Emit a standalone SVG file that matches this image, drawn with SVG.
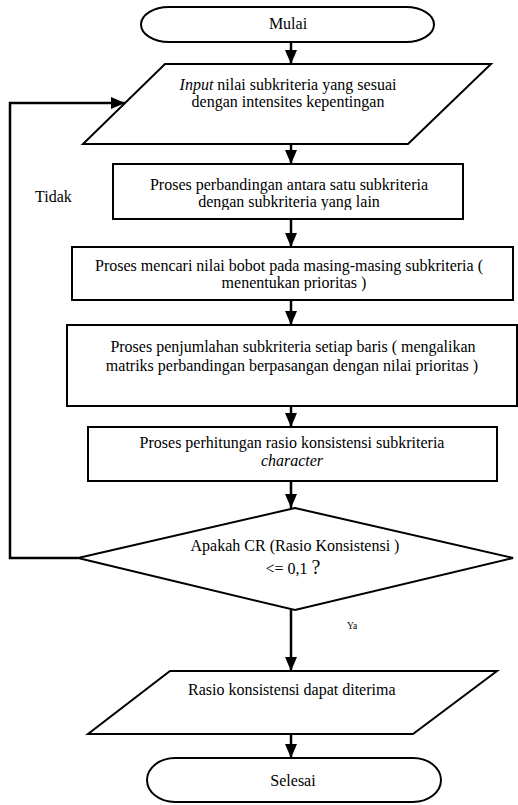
<svg xmlns="http://www.w3.org/2000/svg" width="518" height="805" viewBox="0 0 518 805">
  <style>
    .shape { fill: #ffffff; stroke: #000000; stroke-width: 2; }
    .line { fill: none; stroke: #000000; stroke-width: 2.5; }
    .t { font-family: "Liberation Serif", "DejaVu Serif", "Times New Roman", serif; font-size: 16px; fill: #000000; text-anchor: middle; }
    .it { font-style: italic; }
  </style>
  <defs>
    <marker id="arrow" viewBox="0 0 14 12" refX="14" refY="6" markerWidth="14" markerHeight="12" markerUnits="userSpaceOnUse" orient="auto">
      <path d="M0,0 L14,6 L0,12 Z" fill="#000000"/>
    </marker>
    <!-- text frames of the first two process boxes cut off descenders -->
    <clipPath id="clip-p1"><rect x="114" y="165" width="348" height="45"/></clipPath>
    <clipPath id="clip-p2"><rect x="73" y="248" width="439" height="43"/></clipPath>
  </defs>

  <!-- connectors -->
  <g id="connectors">
    <line class="line" x1="291" y1="42" x2="291" y2="64" marker-end="url(#arrow)"/>
    <line class="line" x1="291" y1="144" x2="291" y2="164" marker-end="url(#arrow)"/>
    <line class="line" x1="291" y1="219" x2="291" y2="247" marker-end="url(#arrow)"/>
    <line class="line" x1="291" y1="300" x2="291" y2="325" marker-end="url(#arrow)"/>
    <line class="line" x1="291" y1="406" x2="291" y2="427" marker-end="url(#arrow)"/>
    <line class="line" x1="291" y1="481" x2="291" y2="508" marker-end="url(#arrow)"/>
    <line class="line" x1="291" y1="610" x2="291" y2="671" marker-end="url(#arrow)"/>
    <line class="line" x1="291" y1="734" x2="291" y2="758" marker-end="url(#arrow)"/>
    <!-- loop back when CR is not acceptable -->
    <polyline class="line" points="78,558 10,558 10,103 125,103" marker-end="url(#arrow)"/>
    <text class="t" x="35" y="202" style="text-anchor:start">Tidak</text>
    <text class="t" x="347" y="629" style="text-anchor:start;font-size:9.5px">Ya</text>
  </g>

  <g id="start">
    <path class="shape" d="M169,7 H406 A28,17.5 0 0 1 406,42 H169 A28,17.5 0 0 1 169,7 Z"/>
    <text class="t" x="288" y="29">Mulai</text>
  </g>

  <g id="input">
    <polygon class="shape" points="165,64 491,64 408,144 83,144"/>
    <text class="t" x="288" y="90"><tspan class="it">Input</tspan> nilai subkriteria yang sesuai</text>
    <text class="t" x="288" y="107">dengan intensites kepentingan</text>
  </g>

  <g id="process-compare">
    <rect class="shape" x="113" y="164" width="350" height="55"/>
    <g clip-path="url(#clip-p1)">
      <text class="t" x="289" y="190">Proses perbandingan antara satu subkriteria</text>
      <text class="t" x="289" y="207">dengan subkriteria yang lain</text>
    </g>
  </g>

  <g id="process-weight">
    <rect class="shape" x="72" y="247" width="441" height="53"/>
    <g clip-path="url(#clip-p2)">
      <text class="t" x="289" y="271">Proses mencari nilai bobot pada masing-masing subkriteria (</text>
      <text class="t" x="294" y="288">menentukan prioritas )</text>
    </g>
  </g>

  <g id="process-sum">
    <rect class="shape" x="67" y="325" width="450" height="81"/>
    <text class="t" x="293" y="352">Proses penjumlahan subkriteria setiap baris ( mengalikan</text>
    <text class="t" x="292" y="371">matriks perbandingan berpasangan dengan nilai prioritas )</text>
  </g>

  <g id="process-ratio">
    <rect class="shape" x="88" y="427" width="409" height="54"/>
    <text class="t" x="292" y="448">Proses perhitungan rasio konsistensi subkriteria</text>
    <text class="t it" x="292" y="466">character</text>
  </g>

  <g id="decision">
    <polygon class="shape" points="295,508 513,558 295,610 78,558"/>
    <text class="t" x="295" y="551">Apakah CR (Rasio Konsistensi  )</text>
    <text class="t" x="293" y="574">&lt;= 0,1 <tspan style="font-size:20px">?</tspan></text>
  </g>

  <g id="output">
    <polygon class="shape" points="170,671 497,671 413,734 88,734"/>
    <text class="t" x="188" y="695" style="text-anchor:start">Rasio konsistensi dapat diterima</text>
  </g>

  <g id="end">
    <path class="shape" d="M175,758 H413 A28,22 0 0 1 413,802 H175 A28,22 0 0 1 175,758 Z"/>
    <text class="t" x="293" y="786">Selesai</text>
  </g>
</svg>
